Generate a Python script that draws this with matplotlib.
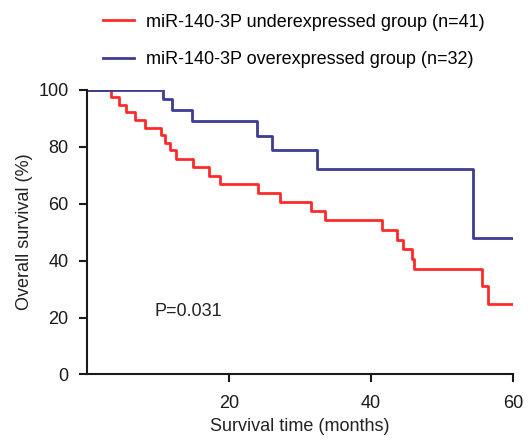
import matplotlib
matplotlib.use("Agg")
import matplotlib.pyplot as plt

plt.rcParams['font.family'] = ['Liberation Sans', 'DejaVu Sans']

# 生存曲线数据
low_t = [0, 3.5, 4.6, 5.6, 6.8, 8.2, 10.5, 11.0, 11.7, 12.6, 14.9, 17.2, 18.7,
         24.1, 27.2, 31.6, 33.5, 41.5, 43.7, 44.5, 45.7, 46.1, 55.6, 56.5, 60]
low_s = [100, 97.5, 94.8, 92.2, 89.5, 86.7, 84.0, 81.3, 78.8, 75.8, 72.8, 69.6, 66.8,
         63.8, 60.6, 57.3, 54.2, 50.9, 47.4, 43.9, 40.4, 37.2, 31.0, 24.9, 24.9]

high_t = [0, 10.8, 12.0, 14.8, 24.0, 26.1, 32.4, 54.3, 60]
high_s = [100, 96.9, 93.0, 88.9, 83.9, 78.7, 72.2, 48.0, 48.0]

labels = ['miR-140-3P underexpressed group (n=41)',
          'miR-140-3P overexpressed group (n=32)']
colors = ['#ff2a2a', '#3c3c92']

fig = plt.figure(figsize=(5.28, 4.4), dpi=100)
ax = fig.add_axes([0.164, 0.149, 0.808, 0.647])

ax.step(low_t, low_s, where='post', color=colors[0], lw=2.0, label=labels[0])
ax.step(high_t, high_s, where='post', color=colors[1], lw=2.0, label=labels[1])

ax.set_xlim(0, 60)
ax.set_ylim(0, 100)
ax.set_xticks([20, 40, 60])
ax.set_yticks([0, 20, 40, 60, 80, 100])
ax.spines['top'].set_visible(False)
ax.spines['right'].set_visible(False)
for s in ['left', 'bottom']:
    ax.spines[s].set_linewidth(1.5)
    ax.spines[s].set_color('#1a1a1a')
ax.tick_params(direction='out', length=6, width=1.5, labelsize=13, colors='#1a1a1a')
ax.tick_params(axis='x', pad=9)
ax.tick_params(axis='y', pad=7)

ax.set_xlabel('Survival time (months)', fontsize=13, color='#222222', labelpad=4)
ax.set_ylabel('Overall survival (%)', fontsize=13, color='#222222', labelpad=4)

ax.text(9.6, 22, 'P=0.031', fontsize=13, color='#222222', va='center', ha='left')

fig.legend(loc='upper left', bbox_to_anchor=(0.195, 0.969), frameon=False,
           borderaxespad=0, borderpad=0,
           fontsize=13, handlelength=1.7, labelspacing=1.13, handletextpad=0.7)

fig.savefig('out.png', dpi=100)
